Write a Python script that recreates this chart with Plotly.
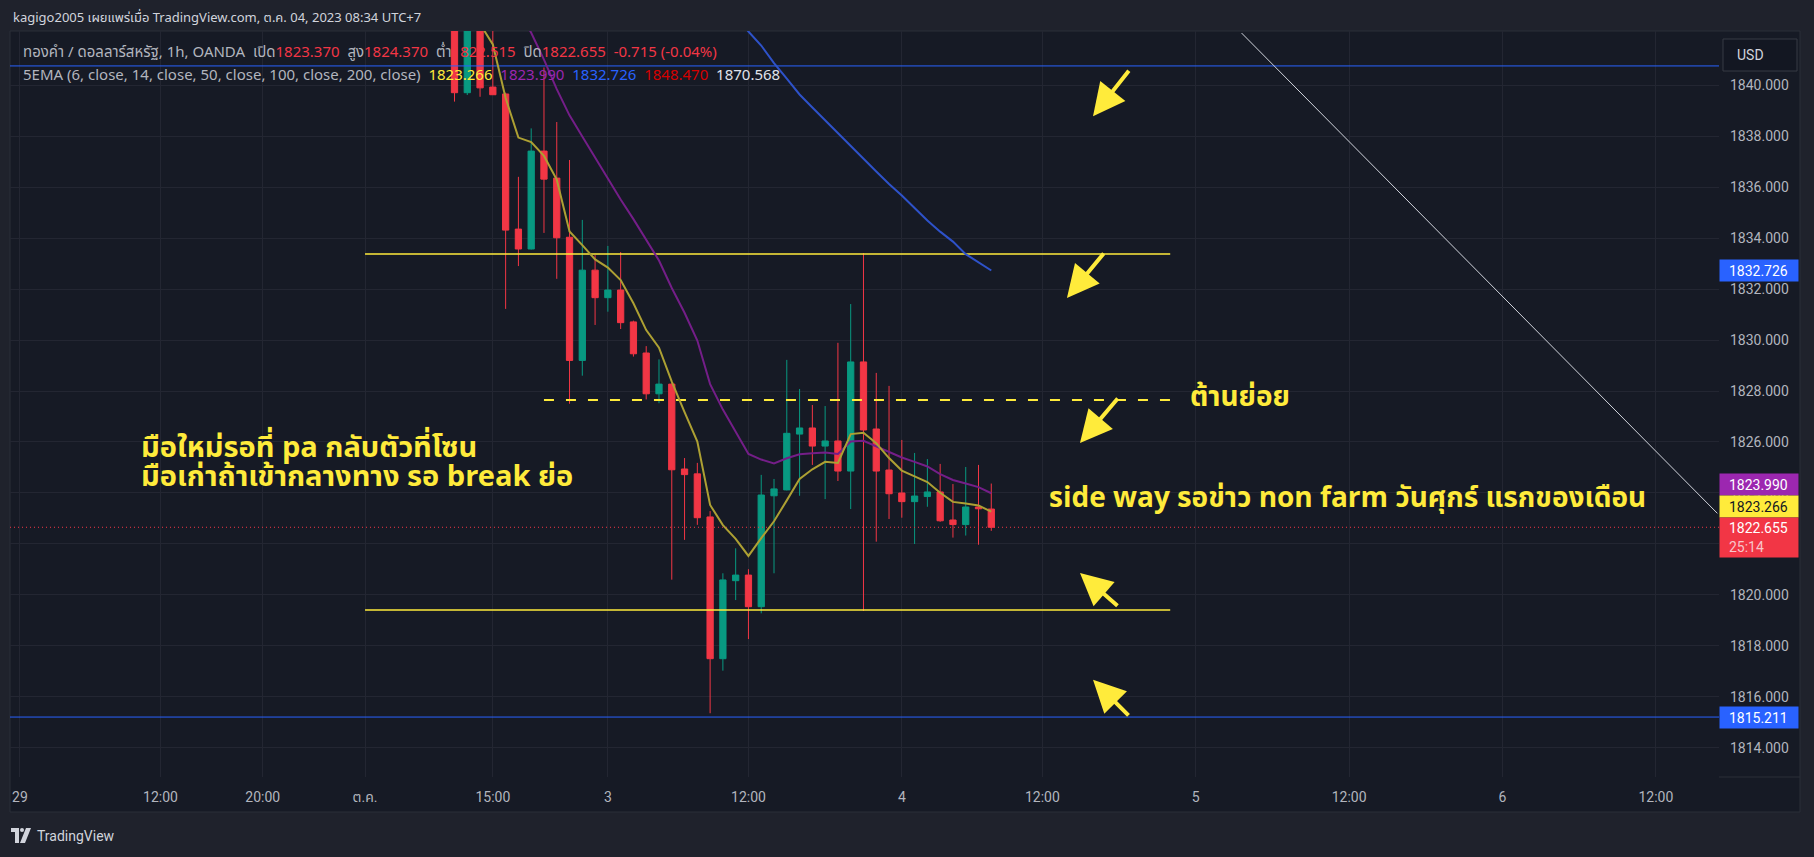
import datetime as dt
import plotly.graph_objects as go

# ---------------- data ----------------
bar_times = [
    "2023-10-02 12:00", "2023-10-02 13:00", "2023-10-02 14:00", "2023-10-02 15:00",
    "2023-10-02 16:00", "2023-10-02 17:00", "2023-10-02 18:00", "2023-10-02 19:00",
    "2023-10-02 20:00", "2023-10-02 21:00", "2023-10-02 22:00", "2023-10-02 23:00",
    "2023-10-03 00:00", "2023-10-03 01:00", "2023-10-03 02:00", "2023-10-03 03:00",
    "2023-10-03 05:00", "2023-10-03 06:00", "2023-10-03 07:00", "2023-10-03 08:00",
    "2023-10-03 09:00", "2023-10-03 10:00", "2023-10-03 11:00", "2023-10-03 12:00",
    "2023-10-03 13:00", "2023-10-03 14:00", "2023-10-03 15:00", "2023-10-03 16:00",
    "2023-10-03 17:00", "2023-10-03 18:00", "2023-10-03 19:00", "2023-10-03 20:00",
    "2023-10-03 21:00", "2023-10-03 22:00", "2023-10-03 23:00", "2023-10-04 00:00",
    "2023-10-04 01:00", "2023-10-04 02:00", "2023-10-04 03:00", "2023-10-04 05:00",
    "2023-10-04 06:00", "2023-10-04 07:00", "2023-10-04 08:00",
]
opens = [1843.20, 1839.70, 1843.00, 1839.92, 1839.65, 1834.35, 1833.57, 1837.41,
         1836.35, 1834.03, 1829.20, 1832.74, 1831.66, 1831.96, 1830.71, 1829.49,
         1827.89, 1828.27, 1824.94, 1824.75, 1823.06, 1817.50, 1820.56, 1820.78,
         1819.54, 1823.89, 1824.12, 1826.31, 1826.55, 1825.84, 1826.04, 1824.86,
         1829.14, 1826.51, 1824.90, 1824.00, 1823.66, 1823.86, 1824.04, 1822.94,
         1822.76, 1823.45, 1823.370]
highs = [1843.60, 1843.40, 1843.30, 1842.60, 1839.70, 1836.40, 1838.30, 1840.69,
         1838.55, 1837.06, 1834.71, 1833.33, 1833.69, 1833.45, 1830.76, 1829.76,
         1829.24, 1828.30, 1825.37, 1825.18, 1823.29, 1820.85, 1821.83, 1821.01,
         1824.71, 1824.55, 1829.22, 1828.08, 1827.45, 1827.41, 1829.89, 1831.41,
         1833.41, 1828.71, 1828.20, 1826.08, 1825.57, 1825.33, 1825.14, 1824.35,
         1825.02, 1825.10, 1824.370]
lows = [1839.35, 1839.61, 1839.54, 1839.61, 1831.22, 1832.90, 1833.55, 1834.20,
        1832.40, 1827.50, 1828.60, 1830.59, 1831.11, 1830.43, 1829.35, 1827.67,
        1827.52, 1820.60, 1822.16, 1822.75, 1815.36, 1817.03, 1819.80, 1818.27,
        1819.28, 1820.85, 1824.10, 1823.89, 1825.10, 1823.76, 1824.47, 1823.37,
        1819.37, 1822.09, 1822.98, 1823.03, 1822.00, 1823.46, 1822.87, 1822.25,
        1822.33, 1821.97, 1822.515]
closes = [1839.70, 1843.00, 1839.89, 1839.62, 1834.31, 1833.57, 1837.41, 1836.31,
          1834.01, 1829.20, 1832.74, 1831.66, 1831.96, 1830.68, 1829.46, 1827.89,
          1828.27, 1824.91, 1824.72, 1823.03, 1817.50, 1820.59, 1820.78, 1819.54,
          1823.92, 1824.16, 1826.34, 1826.55, 1825.84, 1826.04, 1824.86, 1829.14,
          1826.47, 1824.86, 1823.97, 1823.66, 1823.88, 1824.04, 1822.91, 1822.76,
          1823.45, 1823.38, 1822.655]

ema6 = [1843.50, 1843.36, 1842.40, 1841.59, 1839.49, 1837.94, 1837.76, 1837.22,
        1836.29, 1834.26, 1833.72, 1833.16, 1832.84, 1832.35, 1831.44, 1830.39,
        1829.70, 1828.37, 1827.17, 1826.02, 1823.53, 1822.74, 1822.20, 1821.53,
        1822.23, 1822.89, 1823.71, 1824.55, 1824.93, 1825.22, 1825.18, 1826.31,
        1826.36, 1825.95, 1825.37, 1824.88, 1824.65, 1824.43, 1824.01, 1823.65,
        1823.59, 1823.51, 1823.266]
ema14 = [1847.20, 1846.80, 1846.30, 1845.60, 1844.00, 1842.95, 1842.05, 1841.00,
         1839.84, 1838.81, 1837.98, 1837.15, 1836.33, 1835.51, 1834.74, 1833.93,
         1833.12, 1832.04, 1831.07, 1829.98, 1828.27, 1827.27, 1826.39, 1825.53,
         1825.31, 1825.16, 1825.36, 1825.52, 1825.56, 1825.59, 1825.53, 1826.02,
         1826.05, 1825.83, 1825.61, 1825.39, 1825.22, 1825.04, 1824.74, 1824.51,
         1824.37, 1824.23, 1823.990]
ema50 = [None, None, None, None, None, None, None, None,
         None, None, None, None, None, None, None, None,
         None, None, None, None, None, 1843.30, 1842.70, 1842.10,
         1841.55, 1840.86, 1840.25, 1839.63, 1839.12, 1838.61, 1838.14, 1837.63,
         1837.12, 1836.61, 1836.12, 1835.67, 1835.18, 1834.69, 1834.25, 1833.86,
         1833.37, 1833.06, 1832.726]

tick_times = ["2023-09-29 00:00", "2023-09-29 12:00", "2023-09-29 20:00", "2023-10-02 05:00",
              "2023-10-02 15:00", "2023-10-03 00:00", "2023-10-03 12:00", "2023-10-04 00:00",
              "2023-10-04 12:00", "2023-10-05 00:00", "2023-10-05 12:00", "2023-10-06 00:00",
              "2023-10-06 12:00"]
tick_text = ["29", "12:00", "20:00", "ต.ค.", "15:00", "3", "12:00", "4", "12:00", "5",
             "12:00", "6", "12:00"]
price_ticks = [1814, 1816, 1818, 1820, 1822, 1824, 1826, 1828, 1830, 1832, 1834, 1836, 1838, 1840]

level_upper = 1833.37
level_minor = 1827.65
level_lower = 1819.41
level_blue_low = 1815.211
level_blue_top = 1840.75
zone_start = "2023-10-02 05:00"
minor_start = "2023-10-02 19:00"
zone_end = "2023-10-04 22:00"
trend_pts_t = ["2023-10-05 03:35", "2023-10-06 16:49"]
trend_pts_p = [1842.04, 1823.20]

last_close = 1822.655
ema_last = {"ema6": 1823.266, "ema14": 1823.990, "ema50": 1832.726, "ema100": 1848.470, "ema200": 1870.568}

# ---------------- time grid (trading-hour axis) ----------------
def build_grid():
    grid = []
    t = dt.datetime(2023, 9, 29, 0)
    end = dt.datetime(2023, 10, 7, 0)
    while t <= end:
        wd = t.weekday()
        skip = False
        if t < dt.datetime(2023, 10, 5):
            if t.hour == 4:
                skip = True
            if (wd == 5 and t.hour >= 4) or wd == 6 or (wd == 0 and t.hour < 5):
                skip = True
        if not skip:
            grid.append(t.strftime("%Y-%m-%d %H:00"))
        t += dt.timedelta(hours=1)
    return grid

grid = build_grid()
gidx = {t: i for i, t in enumerate(grid)}

def xpos(ts):
    base = ts[:14] + "00"
    return gidx[base] + int(ts[14:16]) / 60.0

bx = [xpos(t) for t in bar_times]

# ---------------- style ----------------
PANE = "#161A25"
OUTER = "#1F222C"
GRID = "#232632"
TXT = "#B2B5BE"
RED = "#F23645"
GREEN = "#089981"
YEL = "#FFEB3B"
THAI = "Noto Sans Thai, Tahoma, Noto Sans, DejaVu Sans, sans-serif"
UI = "Roboto, Noto Sans Thai, Noto Sans, sans-serif"

X0, X1 = -0.78, 132.94
Y0, Y1 = 1812.86, 1842.12
L, R, T, B = 10, 95, 31, 80
W, H = 1814, 857
PW = W - L - R
PH = H - T - B

def px2paper(px, py):
    return (px - L) / PW, (H - B - py) / PH

fig = go.Figure()

# drawings: horizontal levels
xs_zone = [xpos(zone_start), xpos(zone_end)]
fig.add_trace(go.Scatter(x=xs_zone, y=[level_upper, level_upper], mode="lines",
                         line=dict(color=YEL, width=1.5), hoverinfo="skip"))
fig.add_trace(go.Scatter(x=xs_zone, y=[level_lower, level_lower], mode="lines",
                         line=dict(color=YEL, width=1.5), hoverinfo="skip"))
fig.add_trace(go.Scatter(x=[xpos(minor_start), xpos(zone_end)], y=[level_minor, level_minor],
                         mode="lines", line=dict(color=YEL, width=2, dash="10px,12px"),
                         hoverinfo="skip"))
fig.add_trace(go.Scatter(x=[X0, X1], y=[level_blue_low, level_blue_low], mode="lines",
                         line=dict(color="#2962FF", width=1), hoverinfo="skip"))
fig.add_trace(go.Scatter(x=[X0, X1], y=[level_blue_top, level_blue_top], mode="lines",
                         line=dict(color="#2962FF", width=1), hoverinfo="skip"))
fig.add_trace(go.Scatter(x=[X0, X1], y=[last_close, last_close], mode="lines",
                         line=dict(color=RED, width=1, dash="1px,3px"), hoverinfo="skip"))
fig.add_trace(go.Scatter(x=[xpos(t) for t in trend_pts_t], y=trend_pts_p, mode="lines",
                         line=dict(color="#D1D4DC", width=1), hoverinfo="skip"))

# EMA lines
fig.add_trace(go.Scatter(x=bx, y=ema50, mode="lines", line=dict(color="#2E52C9", width=2),
                         hoverinfo="skip"))
fig.add_trace(go.Scatter(x=bx, y=ema14, mode="lines", line=dict(color="#741E88", width=2),
                         hoverinfo="skip"))
fig.add_trace(go.Scatter(x=bx, y=ema6, mode="lines", line=dict(color="#ADA033", width=2),
                         hoverinfo="skip"))

# candles
fig.add_trace(go.Candlestick(
    x=bx, open=opens, high=highs, low=lows, close=closes,
    increasing=dict(line=dict(color=GREEN, width=1), fillcolor=GREEN),
    decreasing=dict(line=dict(color=RED, width=1), fillcolor=RED),
    whiskerwidth=0, hoverinfo="skip"))

shapes = []
# pane background and borders
x_a, y_a = px2paper(10, 31)
x_b, y_b = px2paper(1800, 812)
shapes.append(dict(type="rect", xref="paper", yref="paper", x0=x_a, y0=y_b, x1=x_b, y1=y_a,
                   fillcolor=PANE, line=dict(color="#2A2E39", width=1), layer="below"))
xa, ya = px2paper(1719, 777)
shapes.append(dict(type="line", xref="paper", yref="paper", x0=1.0, x1=x_b, y0=ya, y1=ya,
                   line=dict(color="#2A2E39", width=1)))
# USD button
ux0, uy0 = px2paper(1723, 39)
ux1, uy1 = px2paper(1797, 71)
shapes.append(dict(type="rect", xref="paper", yref="paper", x0=ux0, y0=uy1, x1=ux1, y1=uy0,
                   fillcolor="#131722", line=dict(color="#363A45", width=1)))
# TradingView logo glyph
lx0, ly0 = px2paper(11, 828)
lx1, ly1 = px2paper(19, 832)
shapes.append(dict(type="rect", xref="paper", yref="paper", x0=lx0, y0=ly1, x1=lx1, y1=ly0,
                   fillcolor="#D1D4DC", line=dict(width=0)))
lx0, ly0 = px2paper(15, 828)
lx1, ly1 = px2paper(19, 843)
shapes.append(dict(type="rect", xref="paper", yref="paper", x0=lx0, y0=ly1, x1=lx1, y1=ly0,
                   fillcolor="#D1D4DC", line=dict(width=0)))
cx0, cy0 = px2paper(20, 828)
cx1, cy1 = px2paper(24, 832)
shapes.append(dict(type="circle", xref="paper", yref="paper", x0=cx0, y0=cy1, x1=cx1, y1=cy0,
                   fillcolor="#D1D4DC", line=dict(width=0)))
p1 = px2paper(26, 828); p2 = px2paper(31, 828); p3 = px2paper(25, 843); p4 = px2paper(20, 843)
shapes.append(dict(type="path", xref="paper", yref="paper",
                   path=f"M {p1[0]},{p1[1]} L {p2[0]},{p2[1]} L {p3[0]},{p3[1]} L {p4[0]},{p4[1]} Z",
                   fillcolor="#D1D4DC", line=dict(width=0)))

ann = []
def ptext(px, py, text, size=13, color=TXT, family=UI, xanchor="left", yanchor="middle"):
    xp, yp = px2paper(px, py)
    ann.append(dict(xref="paper", yref="paper", x=xp, y=yp, text=text, showarrow=False,
                    xanchor=xanchor, yanchor=yanchor, font=dict(size=size, color=color, family=family)))

ptext(11, 18, "kagigo2005 เผยแพร่เมื่อ TradingView.com, ต.ค. 04, 2023 08:34 UTC+7", size=13,
      color="#D1D4DC", family=THAI)
def red(v):
    return f"<span style='color:{RED}'>{v}</span>"
row1 = ("ทองคำ / ดอลลาร์สหรัฐ, 1h, OANDA  เปิด" + red(f"{opens[-1]:.3f}") + "  สูง" + red(f"{highs[-1]:.3f}")
        + "  ต่ำ" + red(f"{lows[-1]:.3f}") + "  ปิด" + red(f"{closes[-1]:.3f}") + "  "
        + red(f"{closes[-1]-opens[-1]:.3f} ({(closes[-1]-opens[-1])/opens[-1]*100:.2f}%)"))
ptext(21, 52, row1, size=15, family=THAI)
row2 = ("5EMA (6, close, 14, close, 50, close, 100, close, 200, close)  "
        f"<span style='color:#FFEB3B'>{ema_last['ema6']:.3f}</span>  "
        f"<span style='color:#9C27B0'>{ema_last['ema14']:.3f}</span>  "
        f"<span style='color:#2962FF'>{ema_last['ema50']:.3f}</span>  "
        f"<span style='color:#D50000'>{ema_last['ema100']:.3f}</span>  "
        f"<span style='color:#E0E3EB'>{ema_last['ema200']:.3f}</span>")
ptext(21, 75, row2, size=15, family=THAI)
ptext(1735, 55, "USD", size=14, color="#D1D4DC")
ptext(35, 836, "TradingView", size=14, color="#D1D4DC")

# chart text notes
note_font = dict(size=28, color=YEL, family=THAI)
left_font = dict(size=29, color=YEL, family=THAI)
ann.append(dict(x=9.3, y=1825.76, xref="x", yref="y", showarrow=False, xanchor="left",
                yanchor="middle", text="<b>มือใหม่รอที่ pa กลับตัวที่โซน</b>", font=left_font))
ann.append(dict(x=9.3, y=1824.62, xref="x", yref="y", showarrow=False, xanchor="left",
                yanchor="middle", text="<b>มือเก่าถ้าเข้ากลางทาง รอ break ย่อ</b>", font=left_font))
ann.append(dict(x=91.4, y=1827.76, xref="x", yref="y", showarrow=False, xanchor="left",
                yanchor="middle", text="<b>ต้านย่อย</b>", font=note_font))
ann.append(dict(x=80.36, y=1823.80, xref="x", yref="y", showarrow=False, xanchor="left",
                yanchor="middle", text="<b>side way รอข่าว non farm วันศุกร์ แรกของเดือน</b>",
                font=note_font))

# arrows (head position, tail offset in px)
arrows = [(83.96, 1838.78, 37, -47), (81.92, 1831.65, 38, -46), (82.94, 1825.96, 39, -46),
          (82.94, 1820.86, 39, 34), (83.96, 1816.67, 37, 37)]
for hx, hy, axo, ayo in arrows:
    ann.append(dict(x=hx, y=hy, xref="x", yref="y", ax=axo, ay=ayo, showarrow=True,
                    arrowhead=2, arrowsize=1.6, arrowwidth=4, arrowcolor=YEL, text=""))

# price tags on the axis
def tag(price, text, bg, fg, yshift=0, height=17):
    ann.append(dict(xref="paper", yref="y", x=1.0, y=price, xanchor="left", yanchor="middle",
                    text=text, showarrow=False, bgcolor=bg, width=74, height=height,
                    borderpad=2, align="left", yshift=yshift,
                    font=dict(size=14, color=fg, family=UI)))

tag(ema_last["ema50"], f"&nbsp;&nbsp;{ema_last['ema50']:.3f}", "#2962FF", "#FFFFFF")
tag(level_blue_low, f"&nbsp;&nbsp;{level_blue_low:.3f}", "#2962FF", "#FFFFFF")
tag(ema_last["ema14"], f"&nbsp;&nbsp;{ema_last['ema14']:.3f}", "#9C27B0", "#FFFFFF", yshift=8.5)
tag(ema_last["ema6"], f"&nbsp;&nbsp;{ema_last['ema6']:.3f}", "#FFEB3B", "#131722", yshift=5)
tag(last_close, f"&nbsp;&nbsp;{last_close:.3f}<br>&nbsp;&nbsp;<span style='color:#F8C5CA'>25:14</span>",
    RED, "#FFFFFF", yshift=-10, height=35)

fig.update_layout(
    width=W, height=H, autosize=False,
    margin=dict(l=L, r=R, t=T, b=B),
    paper_bgcolor=OUTER, plot_bgcolor=PANE,
    showlegend=False,
    shapes=shapes, annotations=ann,
    xaxis=dict(range=[X0, X1], rangeslider=dict(visible=False),
               tickvals=[xpos(t) for t in tick_times], ticktext=tick_text,
               showgrid=True, gridcolor=GRID, gridwidth=1, zeroline=False, showline=False,
               ticks="", ticklabelstandoff=10,
               tickfont=dict(size=14, color=TXT, family=UI)),
    yaxis=dict(range=[Y0, Y1], side="right", tickvals=price_ticks,
               ticktext=[f"{v:.3f}" for v in price_ticks],
               showgrid=True, gridcolor=GRID, gridwidth=1, zeroline=False, showline=False,
               ticks="", ticklabelstandoff=10,
               tickfont=dict(size=14, color=TXT, family=UI)),
)

fig.write_html("out.html")
